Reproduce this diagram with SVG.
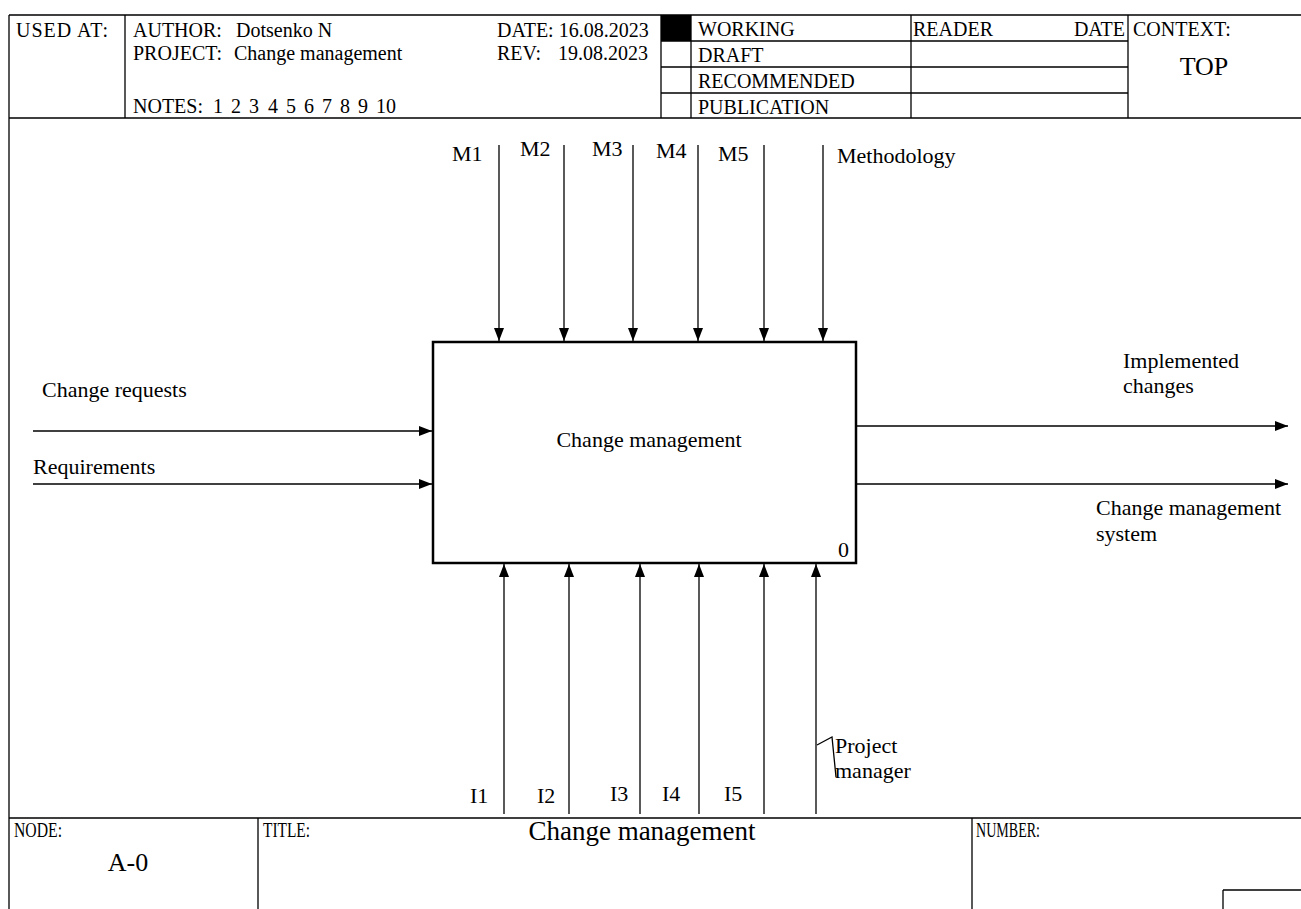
<svg xmlns="http://www.w3.org/2000/svg" width="1301" height="909" viewBox="0 0 1301 909">
<style>
.ln{stroke:#000;stroke-width:1.3;fill:none}
.h{font-family:"Liberation Serif","Times New Roman",serif;font-size:20px;fill:#000}
.lb{font-family:"Liberation Serif","Times New Roman",serif;font-size:22px;fill:#000}
.ft{font-family:"Liberation Serif","Times New Roman",serif;font-size:20px;fill:#000}
.ar{stroke:#000;stroke-width:1.3;fill:none}
</style>
<defs>
<marker id="ah" markerUnits="userSpaceOnUse" markerWidth="14" markerHeight="12" refX="13" refY="5" orient="auto">
<path d="M0,0 L13,5 L0,10 Z" fill="#000"/>
</marker>
</defs>
<rect width="1301" height="909" fill="#fff"/>
<g id="frame">
<path class="ln" d="M9,15 H1301 M9,15 V909 M9,118 H1301 M125,15 V118 M661,15 V118 M691,15 V118 M911,15 V118 M1128,15 V118 M661,41 H1128 M661,67 H1128 M661,93 H1128"/>
<rect x="661" y="15" width="30" height="26" fill="#000"/>
<path class="ln" d="M9,818 H1301 M258,818 V909 M972,818 V909 M1223,890 H1301 M1223,890 V909"/>
</g>
<g id="header-text">
<text class="h" x="16" y="37" style="letter-spacing:1px">USED AT:</text>
<text class="h" x="133" y="37">AUTHOR:</text>
<text class="h" x="236" y="37">Dotsenko N</text>
<text class="h" x="133" y="60">PROJECT:</text>
<text class="h" x="234" y="60">Change management</text>
<text class="h" x="133" y="113">NOTES:<tspan x="213">1</tspan><tspan x="231">2</tspan><tspan x="249">3</tspan><tspan x="268">4</tspan><tspan x="286">5</tspan><tspan x="304">6</tspan><tspan x="322">7</tspan><tspan x="340">8</tspan><tspan x="358">9</tspan><tspan x="376">10</tspan></text>
<text class="h" x="497" y="37">DATE: 16.08.2023</text>
<text class="h" x="497" y="60">REV:</text>
<text class="h" x="558" y="60">19.08.2023</text>
<text class="h" x="698" y="36">WORKING</text>
<text class="h" x="698" y="62">DRAFT</text>
<text class="h" x="698" y="88">RECOMMENDED</text>
<text class="h" x="698" y="114">PUBLICATION</text>
<text class="h" x="913" y="36">READER</text>
<text class="h" x="1125" y="36" text-anchor="end">DATE</text>
<text class="h" x="1133" y="36">CONTEXT:</text>
<text class="h" x="1204" y="75" text-anchor="middle" style="font-size:26px">TOP</text>
</g>
<g id="footer-text">
<text class="ft" x="14" y="837" textLength="48" lengthAdjust="spacingAndGlyphs">NODE:</text>
<text class="h" x="128" y="871" text-anchor="middle" style="font-size:26px">A-0</text>
<text class="ft" x="263" y="837" textLength="47" lengthAdjust="spacingAndGlyphs">TITLE:</text>
<text class="h" x="642" y="840" text-anchor="middle" style="font-size:27px">Change management</text>
<text class="ft" x="976" y="837" textLength="64" lengthAdjust="spacingAndGlyphs">NUMBER:</text>
</g>
<g id="node-0">
<rect x="433" y="342" width="423" height="221" fill="none" stroke="#000" stroke-width="2.5"/>
<text class="lb" x="649" y="447" text-anchor="middle">Change management</text>
<text class="lb" x="849" y="557" text-anchor="end">0</text>
</g>
<g id="connectors">
<path class="ar" d="M33,431 H432" marker-end="url(#ah)"/>
<path class="ar" d="M33,484 H432" marker-end="url(#ah)"/>
<path class="ar" d="M857,426 H1288" marker-end="url(#ah)"/>
<path class="ar" d="M857,484 H1288" marker-end="url(#ah)"/>
<path class="ar" d="M499,145 V341" marker-end="url(#ah)"/>
<path class="ar" d="M564,145 V341" marker-end="url(#ah)"/>
<path class="ar" d="M633,145 V341" marker-end="url(#ah)"/>
<path class="ar" d="M698,145 V341" marker-end="url(#ah)"/>
<path class="ar" d="M764,145 V341" marker-end="url(#ah)"/>
<path class="ar" d="M823,145 V341" marker-end="url(#ah)"/>
<path class="ar" d="M504,814 V564" marker-end="url(#ah)"/>
<path class="ar" d="M569,814 V564" marker-end="url(#ah)"/>
<path class="ar" d="M640,814 V564" marker-end="url(#ah)"/>
<path class="ar" d="M699,814 V564" marker-end="url(#ah)"/>
<path class="ar" d="M764,814 V564" marker-end="url(#ah)"/>
<path class="ar" d="M816,814 V564" marker-end="url(#ah)"/>
<path class="ar" d="M817,745 L832,737 L836,777"/>
</g>
<g id="labels">
<text class="lb" x="42" y="397">Change requests</text>
<text class="lb" x="33" y="474">Requirements</text>
<text class="lb" x="1123" y="368">Implemented</text>
<text class="lb" x="1123" y="393">changes</text>
<text class="lb" x="1096" y="515">Change management</text>
<text class="lb" x="1096" y="541">system</text>
<text class="lb" x="452" y="161">M1</text>
<text class="lb" x="520" y="156">M2</text>
<text class="lb" x="592" y="156">M3</text>
<text class="lb" x="656" y="158">M4</text>
<text class="lb" x="718" y="161">M5</text>
<text class="lb" x="837" y="163">Methodology</text>
<text class="lb" x="470" y="803">I1</text>
<text class="lb" x="537" y="803">I2</text>
<text class="lb" x="610" y="801">I3</text>
<text class="lb" x="662" y="801">I4</text>
<text class="lb" x="724" y="801">I5</text>
<text class="lb" x="835" y="753">Project</text>
<text class="lb" x="835" y="778">manager</text>
</g>
</svg>
